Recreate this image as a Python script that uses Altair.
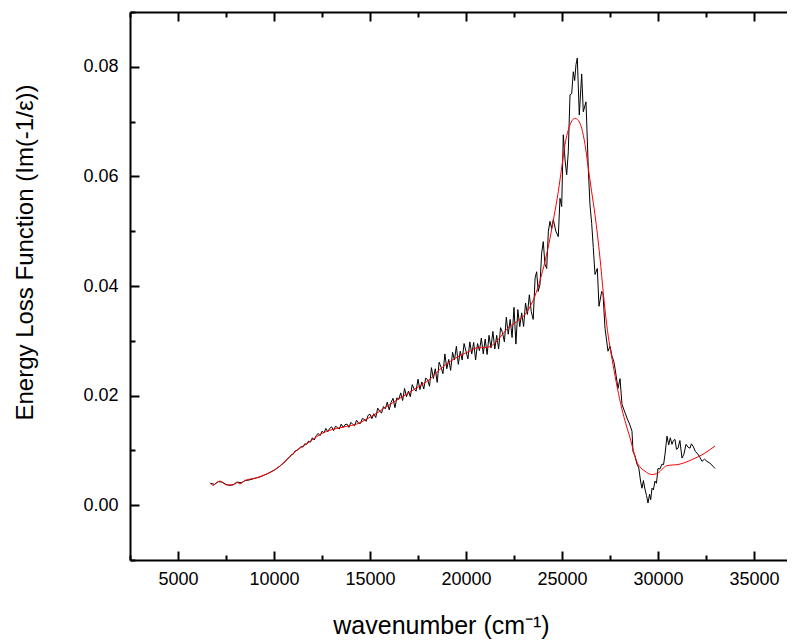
import altair as alt
import pandas as pd

black_low = [
    (6700, 0.0040), (6900, 0.0038), (7100, 0.0043), (7300, 0.0042), (7500, 0.0038),
    (7700, 0.0036), (7900, 0.0038), (8100, 0.0042), (8300, 0.0041), (8500, 0.0045),
    (8700, 0.0046), (8900, 0.0048), (9100, 0.0050), (9300, 0.0052), (9500, 0.0055),
    (9700, 0.0058), (9900, 0.0062), (10100, 0.0066), (10300, 0.0071), (10500, 0.0077),
    (10600, 0.0080), (10700, 0.0085), (10800, 0.0087), (10900, 0.0092), (11000, 0.0093),
    (11100, 0.0099), (11200, 0.0100), (11300, 0.0103), (11400, 0.0107), (11500, 0.0106),
    (11600, 0.0112), (11700, 0.0111), (11800, 0.0117), (11900, 0.0115),
]
black_mid = [
    (12000, 0.0123), (12100, 0.0119), (12200, 0.0127), (12300, 0.0131), (12400, 0.0127),
    (12500, 0.0135), (12600, 0.0132), (12700, 0.0140), (12800, 0.0134), (12900, 0.0140),
    (13000, 0.0143), (13100, 0.0136), (13200, 0.0144), (13300, 0.0142), (13400, 0.0139),
    (13500, 0.0148), (13600, 0.0142), (13700, 0.0147), (13800, 0.0148), (13900, 0.0142),
    (14000, 0.0151), (14100, 0.0148), (14200, 0.0145), (14300, 0.0155), (14400, 0.0150),
    (14500, 0.0149), (14600, 0.0158), (14700, 0.0157), (14800, 0.0153), (14900, 0.0164),
    (15000, 0.0166), (15100, 0.0158), (15200, 0.0167), (15300, 0.0160), (15400, 0.0177),
    (15500, 0.0172), (15600, 0.0168), (15700, 0.0180), (15800, 0.0176), (15900, 0.0188),
    (16000, 0.0174), (16100, 0.0188), (16200, 0.0195), (16300, 0.0178), (16400, 0.0196),
    (16500, 0.0193), (16600, 0.0205), (16700, 0.0191), (16800, 0.0213), (16900, 0.0198),
    (17000, 0.0208), (17100, 0.0198), (17200, 0.0220), (17300, 0.0212), (17400, 0.0208),
    (17500, 0.0230), (17600, 0.0211), (17700, 0.0225), (17800, 0.0212), (17900, 0.0232),
    (18000, 0.0229), (18100, 0.0217), (18200, 0.0251), (18300, 0.0231), (18400, 0.0249),
    (18500, 0.0224), (18600, 0.0261), (18700, 0.0252), (18800, 0.0240), (18900, 0.0276),
    (19000, 0.0249), (19100, 0.0266), (19200, 0.0246), (19300, 0.0279), (19400, 0.0265),
    (19500, 0.0290), (19600, 0.0257), (19700, 0.0281), (19800, 0.0265), (19900, 0.0295),
    (20000, 0.0281), (20100, 0.0267), (20200, 0.0298), (20300, 0.0276), (20400, 0.0297),
    (20500, 0.0265), (20600, 0.0295), (20700, 0.0282), (20800, 0.0305), (20900, 0.0276),
    (21000, 0.0303), (21100, 0.0275), (21200, 0.0310), (21300, 0.0287), (21400, 0.0317),
    (21500, 0.0285), (21600, 0.0310), (21700, 0.0285), (21800, 0.0324), (21900, 0.0315),
    (22000, 0.0298), (22100, 0.0343), (22200, 0.0312), (22300, 0.0339), (22400, 0.0306),
    (22500, 0.0361), (22600, 0.0294), (22700, 0.0357), (22800, 0.0326), (22900, 0.0351),
    (23000, 0.0326), (23100, 0.0369), (23200, 0.0348), (23300, 0.0384), (23400, 0.0353),
    (23500, 0.0339), (23600, 0.0415), (23680, 0.0426), (23760, 0.0390), (23854, 0.0403),
    (23940, 0.0460),
]
black_peak = [
    (24026, 0.0481), (24110, 0.0440), (24203, 0.0432), (24290, 0.0500), (24375, 0.0518),
    (24460, 0.0505), (24547, 0.0521), (24680, 0.0500), (24807, 0.0490), (24896, 0.0560),
    (24984, 0.0545), (25068, 0.0676), (25160, 0.0630), (25245, 0.0603), (25328, 0.0645),
    (25417, 0.0749), (25505, 0.0751), (25589, 0.0791), (25660, 0.0775), (25729, 0.0804),
    (25797, 0.0816), (25901, 0.0712), (26026, 0.0787), (26109, 0.0718), (26250, 0.0736),
    (26370, 0.0614), (26458, 0.0548), (26547, 0.0514), (26630, 0.0470), (26719, 0.0421),
    (26839, 0.0432), (26927, 0.0363), (27068, 0.0390), (27135, 0.0386), (27240, 0.0323),
    (27396, 0.0281), (27500, 0.0290), (27604, 0.0272), (27700, 0.0262), (27760, 0.0250),
    (27917, 0.0213), (28021, 0.0231), (28125, 0.0184), (28250, 0.0172), (28385, 0.0159),
    (28520, 0.0148), (28646, 0.0135), (28698, 0.0098), (28800, 0.0090), (28906, 0.0075),
]
black_tail = [
    (29000, 0.0068), (29100, 0.0042), (29167, 0.0031), (29240, 0.0045), (29323, 0.0029),
    (29400, 0.0018), (29479, 0.0004), (29560, 0.0020), (29620, 0.0010), (29688, 0.0031),
    (29760, 0.0028), (29844, 0.0044), (29920, 0.0040), (30000, 0.0067), (30100, 0.0066),
    (30208, 0.0075), (30290, 0.0074), (30365, 0.0093), (30469, 0.0126), (30560, 0.0110),
    (30640, 0.0123), (30729, 0.0111), (30800, 0.0118), (30885, 0.0120), (30960, 0.0102),
    (31042, 0.0104), (31140, 0.0118), (31250, 0.0086), (31350, 0.0093), (31458, 0.0111),
    (31560, 0.0106), (31667, 0.0104), (31740, 0.0112), (31823, 0.0108), (31950, 0.0098),
    (32083, 0.0093), (32190, 0.0087), (32292, 0.0080), (32420, 0.0084), (32552, 0.0080),
    (32700, 0.0077), (32865, 0.0071), (32969, 0.0067),
]

# ---- fitted curve (red)
red_x = [6667, 6839, 7000, 7188, 7536, 7880, 8050, 8229, 8490, 9099, 9620, 10141, 10661,
         11182, 11703, 12224, 12745, 13266, 13786, 14307, 14828, 15349, 16042, 16734,
         17432, 18125, 18646, 19166, 19688, 20130, 20557, 21078, 21339, 21771, 22120,
         22641, 23073, 23333, 23594, 23854, 24115, 24375, 24590, 24807, 25000, 25156,
         25417, 25677, 25850, 26026, 26200, 26370, 26540, 26719, 26979, 27150, 27328,
         27656, 28109, 28542, 28891, 29323, 29672, 30016, 30200, 30453, 31146, 31823,
         32344, 32969]
red_y = [0.0041, 0.0036, 0.0041, 0.0044, 0.0037, 0.0037, 0.0042, 0.0039, 0.0045, 0.0050,
         0.0057, 0.0067, 0.0083, 0.0100, 0.0112, 0.0125, 0.0135, 0.0140, 0.0144, 0.0148,
         0.0157, 0.0168, 0.0184, 0.0199, 0.0214, 0.0230, 0.0248, 0.0262, 0.0273, 0.0280,
         0.0287, 0.0288, 0.0291, 0.0306, 0.0321, 0.0335, 0.0348, 0.0362, 0.0382, 0.0410,
         0.0445, 0.0487, 0.0528, 0.0572, 0.0620, 0.0658, 0.0694, 0.0706, 0.0702, 0.0688,
         0.0658, 0.0615, 0.0573, 0.0530, 0.0451, 0.0388, 0.0330, 0.0257, 0.0177, 0.0123,
         0.0080, 0.0062, 0.0056, 0.0059, 0.0065, 0.0072, 0.0075, 0.0084, 0.0093, 0.0108]

x_major = [5000, 10000, 15000, 20000, 25000, 30000, 35000]
x_minor = [2500, 7500, 12500, 17500, 22500, 27500, 32500]
y_major = [0.00, 0.02, 0.04, 0.06, 0.08]
y_minor = [-0.01, 0.01, 0.03, 0.05, 0.07, 0.09]
x_domain = [2500, 36719]   # right frame lies just beyond the picture
y_domain = [-0.01, 0.09]

W, H = 657, 548
FONT = "Liberation Sans"

black_pts = black_low + black_mid + black_peak + black_tail
black_df = pd.DataFrame(black_pts, columns=["wn", "v"])
red_df = pd.DataFrame({"wn": red_x, "v": red_y})

xs = alt.Scale(domain=x_domain, nice=False, zero=False)
ys = alt.Scale(domain=y_domain, nice=False, zero=False)


def tick_axis(orient, offset, values, size, domain=False):
    return alt.Axis(orient=orient, offset=offset, values=values, labels=False,
                    domain=domain, domainColor="black", domainWidth=2,
                    grid=False, ticks=True, tickSize=size,
                    tickWidth=2, tickColor="black", title=None)


x_label_axis = alt.Axis(orient="bottom", values=x_major, format="d", ticks=False,
                        domain=True, domainColor="black", domainWidth=2,
                        grid=False, labelFont=FONT, labelFontSize=18,
                        labelColor="black", labelPadding=10,
                        title="wavenumber (cm⁻¹)", titleFont=FONT, titleFontSize=25,
                        titleFontWeight="normal", titleColor="black",
                        titleX=311, titleY=73, titleBaseline="alphabetic",
                        titleAlign="center", titleAnchor="middle")
y_label_axis = alt.Axis(orient="left", values=y_major, format=".2f", ticks=False,
                        domain=True, domainColor="black", domainWidth=2,
                        grid=False, labelFont=FONT, labelFontSize=18,
                        labelColor="black", labelPadding=12,
                        title="Energy Loss Function (Im(-1/ε))", titleFont=FONT,
                        titleFontSize=24, titleFontWeight="normal", titleColor="black",
                        titleX=-105, titleY=240, titleAngle=270,
                        titleBaseline="middle", titleAlign="center")

black = alt.Chart(black_df).mark_line(color="black", strokeWidth=1).encode(
    x=alt.X("wn:Q", scale=xs, axis=x_label_axis),
    y=alt.Y("v:Q", scale=ys, axis=y_label_axis),
)
red = alt.Chart(red_df).mark_line(color="#ff0000", strokeWidth=1, interpolate="monotone").encode(
    x=alt.X("wn:Q", scale=xs, axis=tick_axis("top", -H, x_major, 9)),
    y=alt.Y("v:Q", scale=ys, axis=tick_axis("right", -W, y_major, 9)),
)
ghost1 = alt.Chart(red_df).mark_line(strokeOpacity=0).encode(
    x=alt.X("wn:Q", scale=xs, axis=tick_axis("top", -H, x_minor, 5)),
    y=alt.Y("v:Q", scale=ys, axis=tick_axis("right", -W, y_minor, 5)),
)
ghost2 = alt.Chart(red_df).mark_line(strokeOpacity=0).encode(
    x=alt.X("wn:Q", scale=xs, axis=tick_axis("bottom", -H, x_major, 9, domain=True)),
)
ghost3 = alt.Chart(red_df).mark_line(strokeOpacity=0).encode(
    x=alt.X("wn:Q", scale=xs, axis=tick_axis("bottom", -H, x_minor, 5)),
)

chart = alt.layer(ghost1, ghost2, ghost3, black, red).resolve_axis(
    x="independent", y="independent"
).properties(
    width=W, height=H,
    autosize=alt.AutoSizeParams(type="none"),
    padding={"left": 122, "top": 4, "right": 0, "bottom": 80},
    background="white",
).configure_view(stroke=None)

chart.save("out.html", embed_options={"renderer": "svg", "actions": False})
